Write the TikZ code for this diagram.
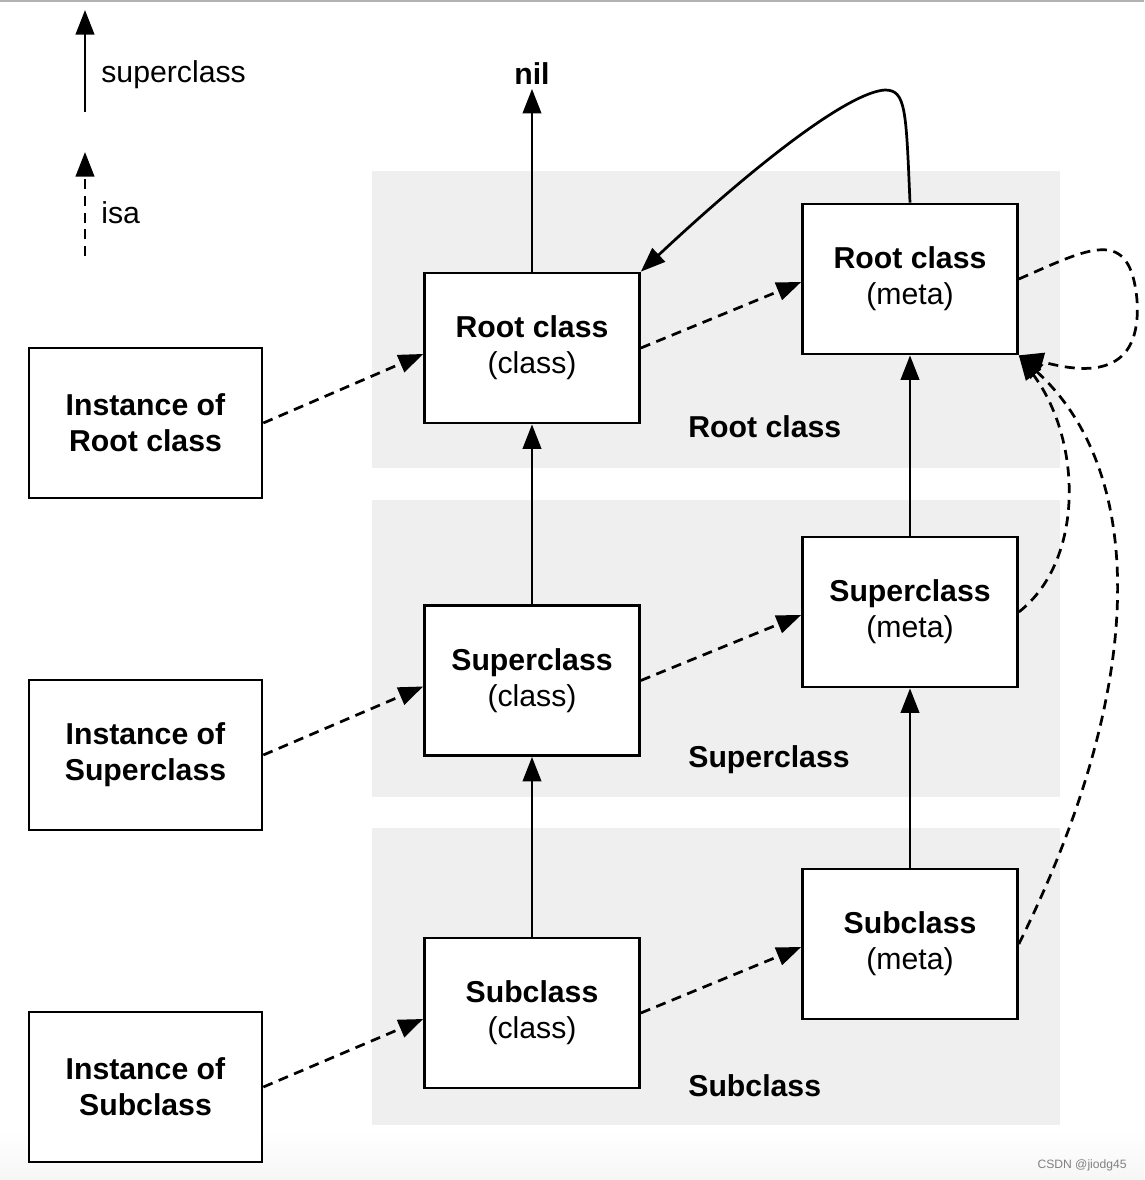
\documentclass[tikz,border=0pt]{standalone}
\usepackage{fontspec}
\setmainfont{Liberation Sans}
\usetikzlibrary{arrows.meta}

\definecolor{bandgray}{RGB}{239,239,239}
\newcommand{\boxfont}{\fontsize{17.2pt}{20.4pt}\selectfont}

\tikzset{
  suparrow/.style={-{Triangle[length=14pt,width=10.5pt]}},
  isaarrow/.style={dash pattern=on 5.7pt off 3.8pt, -{Triangle[length=14pt,width=10.5pt]}},
  clsbox/.style={draw, fill=white, minimum width=4.3cm, minimum height=3cm, align=center},
  instbox/.style={clsbox, minimum width=4.66cm},
}

\begin{document}
\begin{tikzpicture}[x=0.02cm, y=-0.02cm, line width=1.55pt,
    every node/.style={font=\boxfont, inner sep=0pt}]
    \useasboundingbox (0,0) rectangle (1144,1180);

    % 背景
    \draw[line width=0.6pt, gray!60] (0,1) -- (1144,1);
    \shade[top color=white, bottom color=gray!7, draw=none] (0,1130) rectangle (1144,1180);
    \fill[bandgray] (372,171) rectangle (1060,468);
    \fill[bandgray] (372,500) rectangle (1060,797);
    \fill[bandgray] (372,828) rectangle (1060,1125);

    % 图例
    \coordinate (legsupA) at (85,112);
    \coordinate (legsupB) at (85,10);
    \draw[suparrow] (legsupA) -- (legsupB);
    \node[anchor=base west] (legsup) at (100,82) {superclass};
    \coordinate (legisaA) at (85,256);
    \coordinate (legisaB) at (85,152);
    \draw[isaarrow] (legisaA) -- (legisaB);
    \node[anchor=base west] (legisa) at (100,223) {isa};

    % 方框
    \node[instbox] (rootinst) at (145.5,423) {\textbf{Instance of}\\\textbf{Root class}};
    \node[instbox] (supinst) at (145.5,755) {\textbf{Instance of}\\\textbf{Superclass}};
    \node[instbox] (subinst) at (145.5,1087) {\textbf{Instance of}\\\textbf{Subclass}};

    \node[clsbox] (rootcls) at (532,348) {\textbf{Root class}\\(class)};
    \node[clsbox] (supcls) at (532,680.5) {\textbf{Superclass}\\(class)};
    \node[clsbox] (subcls) at (532,1013) {\textbf{Subclass}\\(class)};

    \node[clsbox] (rootmeta) at (910,279) {\textbf{Root class}\\(meta)};
    \node[clsbox] (supmeta) at (910,612) {\textbf{Superclass}\\(meta)};
    \node[clsbox] (submeta) at (910,944) {\textbf{Subclass}\\(meta)};

    \node[anchor=base] (nil) at (532,84) {\textbf{nil}};
    \node[anchor=base west] (rootlabel) at (687,437) {\textbf{Root class}};
    \node[anchor=base west] (suplabel) at (687,767) {\textbf{Superclass}};
    \node[anchor=base west] (sublabel) at (687,1096) {\textbf{Subclass}};

    % superclass
    \draw[suparrow] (rootcls.north) -- ([yshift=-2pt]nil.south);
    \draw[suparrow] (supcls.north) -- (rootcls.south);
    \draw[suparrow] (subcls.north) -- (supcls.south);
    \draw[suparrow] (supmeta.north) -- (rootmeta.south);
    \draw[suparrow] (submeta.north) -- (supmeta.south);
    \draw[suparrow] (rootmeta.north) .. controls (906,110) and (906,90) .. (885,90)
        .. controls (850,92) and (760,160) .. (rootcls.north east);

    % isa
    \draw[isaarrow] (rootinst.east) -- ([yshift=-3.4pt]rootcls.west);
    \draw[isaarrow] (supinst.east) -- ([yshift=-3.4pt]supcls.west);
    \draw[isaarrow] (subinst.east) -- ([yshift=-3.4pt]subcls.west);
    \draw[isaarrow] (rootcls.east) -- ([yshift=-1.7pt]rootmeta.west);
    \draw[isaarrow] (supcls.east) -- ([yshift=-1.7pt]supmeta.west);
    \draw[isaarrow] (subcls.east) -- ([yshift=-1.7pt]submeta.west);
    \draw[isaarrow] (rootmeta.east) .. controls (1090,248) and (1130,225) .. (1137,300)
        .. controls (1142,375) and (1090,375) .. (rootmeta.south east);
    \draw[isaarrow] (supmeta.east) .. controls (1085,560) and (1082,440) .. (rootmeta.south east);
    \draw[isaarrow] (submeta.east) .. controls (1150,680) and (1145,470) .. (rootmeta.south east);

    \node[anchor=base east, font=\fontsize{6.9pt}{8pt}\selectfont, text=gray] (mark) at (1128,1168) {CSDN @jiodg45};
\end{tikzpicture}
\end{document}
